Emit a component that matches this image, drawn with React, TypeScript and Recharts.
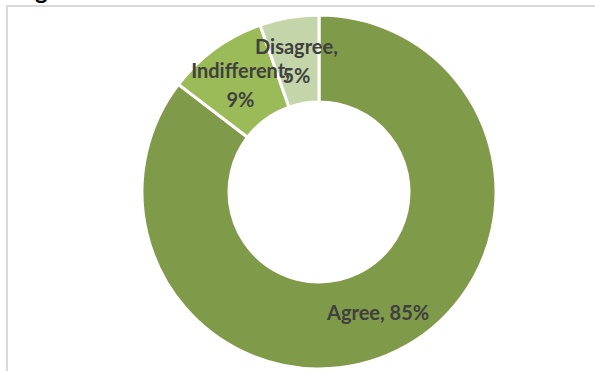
import React from "react";
import { PieChart, Pie, Cell } from "recharts";

const categories = ["Agree", "Indifferent", "Disagree"];
const values = [85.4, 9.2, 5.4];
const percentLabels = ["85%", "9%", "5%"];
const labelLines = [1, 2, 2];
const colors = ["#7f9a48", "#9bbb59", "#c4d6a9"];

const data = categories.map((name, i) => ({
  name,
  value: values[i],
  pct: percentLabels[i],
  lines: labelLines[i],
}));

const RADIAN = Math.PI / 180;

const renderLabel = (props: any) => {
  const { cx, cy, midAngle, innerRadius, outerRadius, index } = props;
  const d = data[index];
  const r = (innerRadius + outerRadius) / 2;
  const x = cx + r * Math.cos(-midAngle * RADIAN);
  const y = cy + r * Math.sin(-midAngle * RADIAN);
  const common = {
    fill: "#404040",
    fontFamily: "Lato, 'Open Sans', sans-serif",
    fontWeight: 700,
    fontSize: 20,
    textAnchor: "middle" as const,
  };
  if (d.lines === 1) {
    return (
      <text x={x} y={y} dominantBaseline="central" {...common}>
        {`${d.name}, ${d.pct}`}
      </text>
    );
  }
  return (
    <text x={x} y={y} dominantBaseline="central" {...common}>
      <tspan x={x} dy={-14}>{`${d.name},`}</tspan>
      <tspan x={x} dy={29}>{d.pct}</tspan>
    </text>
  );
};

export default function App() {
  return (
    <div
      style={{
        position: "fixed",
        left: 0,
        top: 0,
        width: 595,
        height: 371,
        overflow: "hidden",
        background: "#fff",
      }}
    >
      <div
        style={{
          position: "absolute",
          left: 6,
          top: 5,
          width: 620,
          height: 400,
          borderTop: "2px solid #d9d9d9",
          borderLeft: "2px solid #d9d9d9",
          boxSizing: "border-box",
        }}
      />
      <div
        style={{
          position: "absolute",
          left: 35,
          top: -22,
          fontFamily: "Lato, sans-serif",
          fontWeight: 700,
          fontSize: 24,
          color: "#000",
          lineHeight: "24px",
        }}
      >
        g
      </div>
      <div style={{ position: "absolute", left: 0, top: 0 }}>
        <PieChart
          width={595}
          height={371}
          margin={{ top: 0, right: 0, bottom: 0, left: 0 }}
        >
          <Pie
            data={data}
            dataKey="value"
            nameKey="name"
            cx={319}
            cy={192}
            innerRadius={90}
            outerRadius={177}
            startAngle={90}
            endAngle={-270}
            stroke="#ffffff"
            strokeWidth={3}
            label={renderLabel}
            labelLine={false}
            isAnimationActive={false}
          >
            {data.map((d, i) => (
              <Cell key={d.name} fill={colors[i]} />
            ))}
          </Pie>
        </PieChart>
      </div>
    </div>
  );
}
